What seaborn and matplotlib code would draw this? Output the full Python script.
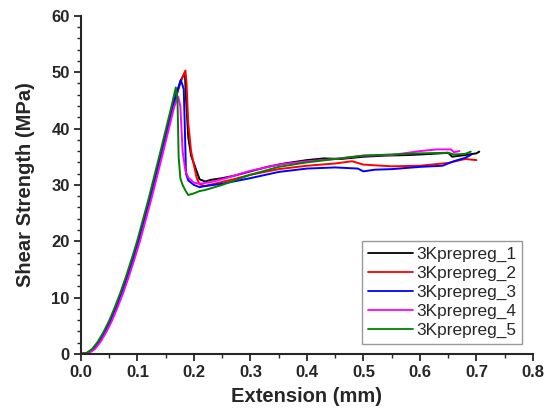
import pandas as pd
import matplotlib
matplotlib.use("Agg")
import matplotlib.pyplot as plt
from matplotlib.ticker import MultipleLocator
import seaborn as sns

# Shear test curves
x1 = [0, 0.012, 0.022, 0.032, 0.042, 0.052, 0.062, 0.072, 0.082, 0.092, 0.102, 0.122, 0.142, 0.162, 0.176, 0.184,
      0.186, 0.19, 0.195, 0.2, 0.205, 0.21, 0.22, 0.23, 0.25, 0.27, 0.3, 0.33, 0.36, 0.4, 0.43, 0.46, 0.5, 0.54,
      0.58, 0.62, 0.65, 0.657, 0.68, 0.7, 0.705]
y1 = [0, 0.2, 0.9, 2.2, 3.9, 5.9, 8.3, 10.9, 13.8, 16.9, 20.2, 27.6, 35.6, 43.8, 48.4, 49.9,
      45.5, 38.5, 35.2, 33.8, 32.4, 31.0, 30.6, 30.9, 31.2, 31.6, 32.4, 33.2, 33.8, 34.4, 34.7, 34.6, 35.0, 35.2,
      35.3, 35.5, 35.7, 35.0, 35.3, 35.6, 35.9]

x2 = [0, 0.013, 0.023, 0.033, 0.043, 0.053, 0.063, 0.073, 0.083, 0.093, 0.103, 0.123, 0.143, 0.163, 0.177, 0.185,
      0.187, 0.19, 0.195, 0.2, 0.205, 0.21, 0.22, 0.24, 0.27, 0.3, 0.35, 0.4, 0.45, 0.48, 0.5, 0.55, 0.6, 0.65,
      0.68, 0.7]
y2 = [0, 0.2, 0.9, 2.2, 3.9, 5.9, 8.3, 10.9, 13.8, 16.9, 20.2, 27.6, 35.6, 43.8, 48.4, 50.3,
      48.0, 41.0, 36.0, 33.5, 31.2, 30.1, 29.8, 30.3, 31.0, 31.8, 32.8, 33.4, 33.8, 34.2, 33.6, 33.3, 33.4, 33.9,
      34.6, 34.4]

x3 = [0, 0.012, 0.022, 0.032, 0.042, 0.052, 0.062, 0.072, 0.082, 0.092, 0.102, 0.122, 0.142, 0.162, 0.177,
      0.182, 0.184, 0.186, 0.19, 0.2, 0.21, 0.22, 0.25, 0.3, 0.35, 0.4, 0.45, 0.49, 0.5, 0.52, 0.55, 0.6, 0.64,
      0.66, 0.68, 0.69]
y3 = [0, 0.2, 0.9, 2.2, 3.9, 5.9, 8.3, 10.9, 13.8, 16.9, 20.2, 27.6, 35.6, 43.8, 48.6,
      47.0, 40.0, 32.0, 30.8, 30.0, 29.6, 29.8, 30.2, 31.2, 32.3, 32.9, 33.1, 32.9, 32.4, 32.7, 32.8, 33.2, 33.4,
      34.2, 34.8, 35.3]

x4 = [0, 0.015, 0.025, 0.035, 0.045, 0.055, 0.065, 0.075, 0.085, 0.095, 0.105, 0.125, 0.145, 0.165, 0.172,
      0.176, 0.18, 0.185, 0.19, 0.2, 0.21, 0.23, 0.26, 0.3, 0.35, 0.4, 0.45, 0.5, 0.55, 0.6, 0.63, 0.655, 0.66,
      0.67]
y4 = [0, 0.2, 0.9, 2.2, 3.9, 5.9, 8.3, 10.9, 13.8, 16.9, 20.2, 27.6, 35.6, 43.8, 45.7,
      44.0, 36.0, 32.5, 31.3, 30.4, 30.2, 30.5, 31.3, 32.5, 33.6, 34.2, 34.6, 35.2, 35.3, 36.0, 36.3, 36.3, 35.8,
      36.0]

x5 = [0, 0.01, 0.02, 0.03, 0.04, 0.05, 0.06, 0.07, 0.08, 0.09, 0.1, 0.12, 0.14, 0.16, 0.168,
      0.171, 0.173, 0.176, 0.18, 0.185, 0.19, 0.2, 0.21, 0.22, 0.25, 0.3, 0.35, 0.4, 0.45, 0.5, 0.55, 0.6, 0.65,
      0.66, 0.68, 0.69]
y5 = [0, 0.2, 0.9, 2.2, 3.9, 5.9, 8.3, 10.9, 13.8, 16.9, 20.2, 27.6, 35.6, 43.8, 47.3,
      45.0, 35.0, 31.2, 30.0, 29.0, 28.2, 28.5, 28.9, 29.1, 30.0, 31.8, 33.2, 34.0, 34.6, 35.2, 35.4, 35.6, 35.7,
      35.4, 35.5, 35.9]

names = ["3Kprepreg_1", "3Kprepreg_2", "3Kprepreg_3", "3Kprepreg_4", "3Kprepreg_5"]
colors = ["#000000", "#ff0000", "#0000ff", "#ff00ff", "#008000"]

frames = []
for name, xs, ys in zip(names, [x1, x2, x3, x4, x5], [y1, y2, y3, y4, y5]):
    frames.append(pd.DataFrame({"ext": xs, "stress": ys, "sample": name}))
df = pd.concat(frames, ignore_index=True)

sns.set_style("ticks")
plt.rcParams["font.family"] = ["Liberation Sans", "DejaVu Sans"]

fig = plt.figure(figsize=(5.54, 4.16), dpi=100)
ax = fig.add_axes([0.146, 0.149, 0.816, 0.813])

sns.lineplot(data=df, x="ext", y="stress", hue="sample", palette=dict(zip(names, colors)),
             sort=False, estimator=None, linewidth=1.4, ax=ax)

ax.set_xlim(0, 0.8)
ax.set_ylim(0, 60)
ax.xaxis.set_major_locator(MultipleLocator(0.1))
ax.xaxis.set_minor_locator(MultipleLocator(0.05))
ax.yaxis.set_major_locator(MultipleLocator(10))
ax.yaxis.set_minor_locator(MultipleLocator(2))
ax.set_xticklabels([f"{v:.1f}" for v in ax.get_xticks()])
sns.despine(ax=ax)
for s in ["left", "bottom"]:
    ax.spines[s].set_linewidth(1.5)
ax.tick_params(which="major", length=5, width=1.3, labelsize=12, direction="out", pad=3)
ax.tick_params(which="minor", length=3, width=1.0, direction="out")
for lab in ax.get_xticklabels() + ax.get_yticklabels():
    lab.set_fontweight("bold")

ax.set_xlabel("Extension (mm)", fontsize=14.5, fontweight="bold", labelpad=5)
ax.set_ylabel("Shear Strength (MPa)", fontsize=14.5, fontweight="bold", labelpad=12)

leg = ax.legend(loc="lower right", bbox_to_anchor=(0.976, 0.03), fontsize=12.4, frameon=True,
                fancybox=False, edgecolor="#808080", handlelength=2.6, handletextpad=0.2,
                labelspacing=0.22, borderpad=0.35, borderaxespad=0, title=None)
leg.get_frame().set_linewidth(1.0)
for line in leg.get_lines():
    line.set_linewidth(1.3)

fig.savefig("out.png", dpi=100)
